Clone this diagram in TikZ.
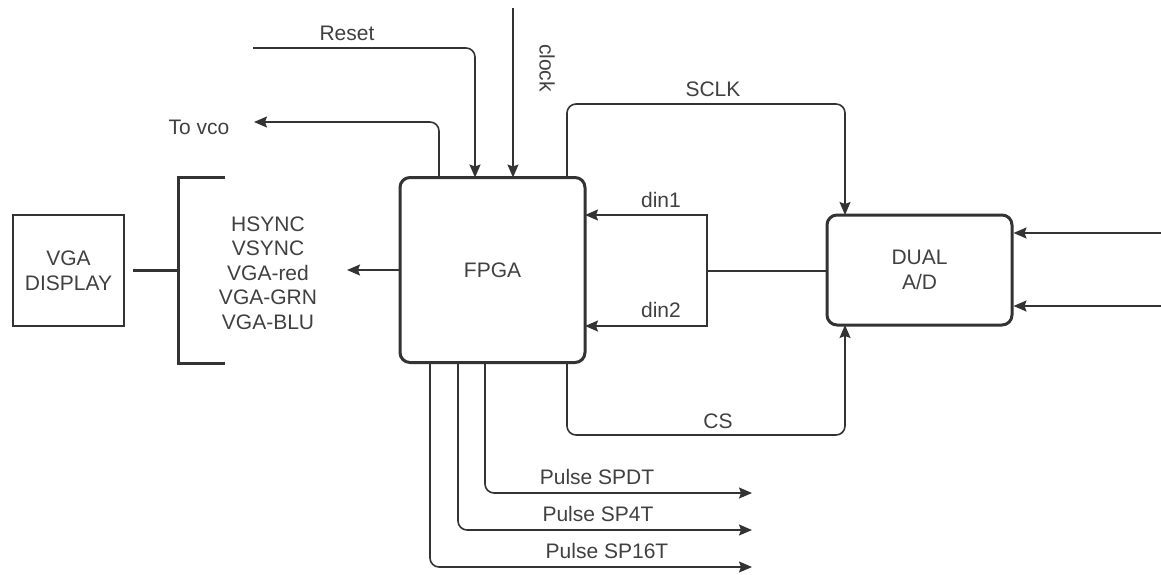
\documentclass[tikz,border=0pt]{standalone}
\usepackage{fontspec}
\setmainfont{Liberation Sans}
\usetikzlibrary{arrows.meta}
\definecolor{ln}{HTML}{333333}
\definecolor{tx}{HTML}{404040}
\begin{document}
\begin{tikzpicture}[x=1pt,y=-1pt,
  every node/.style={text=tx,font=\fontsize{21}{25}\selectfont},
  lbl/.style={inner sep=0pt,align=center},
  bigbox/.style={draw=ln,line width=3pt,rounded corners=10pt,inner sep=0pt,align=center},
  thinbox/.style={draw=ln,line width=2pt,inner sep=0pt,align=center},
  conn/.style={draw=ln,line width=1.6pt},
  rconn/.style={conn,rounded corners=9pt},
  arr/.style={-{Stealth[length=13pt,width=11pt,inset=2pt]}},
  thick line/.style={draw=ln,line width=3pt}]
\useasboundingbox (0,0) rectangle (1161,575);
% boxes
\node[bigbox,minimum width=185pt,minimum height=185pt] (fpga) at (492.5,270) {FPGA};
\node[bigbox,minimum width=185pt,minimum height=110pt] (dual) at (919.5,270) {DUAL\\A/D};
\node[thinbox,minimum width=111pt,minimum height=111pt] (vga) at (68.5,270.5) {VGA\\DISPLAY};
% bracket and signal list
\coordinate (bt) at (225,177);
\coordinate (bb) at (225,363);
\coordinate (bm) at (178,270);
\draw[thick line] (bt) -- (178,177) -- (178,363) -- (bb);
\draw[thick line] (133,270) -- (bm);
\node[lbl,font=\fontsize{21}{24.5}\selectfont] (sigs) at (268,273) {HSYNC\\VSYNC\\VGA-red\\VGA-GRN\\VGA-BLU};
\coordinate (sigarr) at (347,270);
\draw[conn,arr] (fpga.west) -- (sigarr);
% top inputs / outputs
\coordinate (rst) at (253,48);
\coordinate (rstE) at (475,177.5);
\draw[rconn,arr] (rst) -| (rstE);
\node[lbl] (rstl) at (347,33) {Reset};
\coordinate (clk) at (513,8);
\coordinate (clkE) at (513,177.5);
\draw[conn,arr] (clk) -- (clkE);
\node[lbl,rotate=-90] (clkl) at (547,68) {clock};
\coordinate (vcoS) at (439,177.5);
\coordinate (vco) at (254,122);
\draw[rconn,arr] (vcoS) |- (vco);
\node[lbl] (vcol) at (199,127) {To vco};
% SCLK
\coordinate (sclkS) at (567,177.5);
\coordinate (sclkE) at (845,215);
\draw[rconn,arr] (sclkS) -- (567,104) -- (845,104) -- (sclkE);
\node[lbl] (sclkl) at (713,89) {SCLK};
% din
\coordinate (jn) at (707,271);
\coordinate (d1) at (585,215);
\coordinate (d2) at (585,326);
\draw[conn] (dual.west |- jn) -- (jn);
\draw[conn,arr] (jn) |- (d1);
\draw[conn,arr] (jn) |- (d2);
\node[lbl] (d1l) at (661,200) {din1};
\node[lbl] (d2l) at (661,310) {din2};
% CS
\coordinate (csS) at (567,362.5);
\coordinate (csE) at (845,325);
\draw[rconn,arr] (csS) -- (567,435) -- (845,435) -- (csE);
\node[lbl] (csl) at (718,421) {CS};
% A/D inputs
\coordinate (in1) at (1161,233);
\coordinate (in2) at (1161,306);
\draw[conn,arr] (in1) -- (dual.east |- in1);
\draw[conn,arr] (in2) -- (dual.east |- in2);
% pulses
\coordinate (p1S) at (485,362.5);
\coordinate (p2S) at (458,362.5);
\coordinate (p3S) at (430,362.5);
\coordinate (p1) at (752,493);
\coordinate (p2) at (752,530);
\coordinate (p3) at (752,567);
\draw[rconn,arr] (p1S) |- (p1);
\draw[rconn,arr] (p2S) |- (p2);
\draw[rconn,arr] (p3S) |- (p3);
\node[lbl] (p1l) at (597,477) {Pulse SPDT};
\node[lbl] (p2l) at (598,514) {Pulse SP4T};
\node[lbl] (p3l) at (607,551) {Pulse SP16T};
\end{tikzpicture}
\end{document}
